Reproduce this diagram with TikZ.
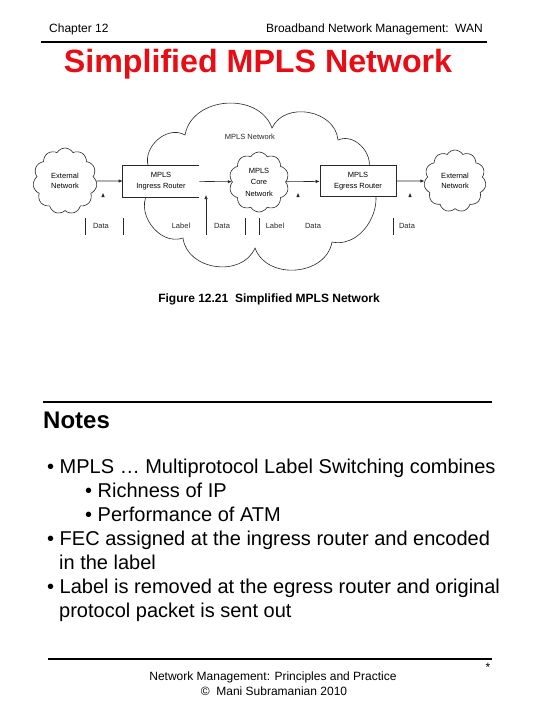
\documentclass[tikz,border=0pt]{standalone}
\usepackage{fontspec}
\setmainfont{Liberation Sans}
\usepackage{xcolor}
\usetikzlibrary{positioning, arrows.meta, shapes.symbols}
\definecolor{titlered}{RGB}{232,12,20}
\definecolor{inkgray}{RGB}{40,40,40}

\begin{document}
\begin{tikzpicture}[x=1pt, y=-1pt, font=\fontsize{7.5}{10.5}\selectfont]

% --- Styles ---
\tikzset{
    routerbox/.style={rectangle, minimum width=76pt, minimum height=31pt, align=center, fill=white, inner sep=1pt, line width=0.6pt, draw=inkgray},
    netcloud/.style={cloud, draw=inkgray, line width=0.6pt, cloud ignores aspect, align=center, inner sep=0pt, fill=white},
    pktlabel/.style={inner sep=0pt, text=inkgray},
    arr/.style={-{Latex[length=4pt, width=3.4pt]}, line width=0.6pt, inkgray},
    pktbar/.style={line width=0.6pt, inkgray},
    slidetext/.style={inner sep=0pt, font=\fontsize{20}{24}\selectfont},
    smalltext/.style={inner sep=0pt, font=\fontsize{12}{14}\selectfont},
}

\useasboundingbox[fill=white] (0,0) rectangle (540,720);

% --- Header ---
\node[smalltext, anchor=base west] (chap) at (49,32) {Chapter 12};
\node[smalltext, anchor=base east] (topic) at (483,32) {Broadband Network Management: \,WAN};
\draw[line width=2pt] (41,42) -- (487,42);
\node[inner sep=0pt, anchor=base, text=titlered, font=\fontsize{32.2}{36}\selectfont\bfseries] (title) at (258,72) {Simplified MPLS Network};

% --- MPLS network cloud (behind the routers) ---
\draw[inkgray, line width=0.6pt, looseness=1.15] (150,190) -- (150,170)
    to[out=120, in=150] (185,135)
    to[out=80, in=110] (272,128)
    to[out=65, in=95] (338,140)
    to[out=24, in=54] (366,175)
    to[out=-42, in=-12] (332,242)
    to[out=-100, in=-70] (255,248)
    to[out=-113, in=-83] (183,238)
    to[out=199, in=229] cycle;
\node[pktlabel] (mplslbl) at (250,137) {MPLS Network};

% --- Row of clouds and routers ---
\node[netcloud, cloud puffs=11, cloud puff arc=120, minimum width=64pt, minimum height=66pt] (extin) at (65,181) {External\\Network};
\node[routerbox, draw=none] (ingress) at (161,181) {MPLS\\Ingress Router};
\draw[line width=0.6pt, inkgray] (ingress.north east) -- (ingress.north west) -- (ingress.south west) -- (ingress.south east);
\node[netcloud, cloud puffs=10, cloud puff arc=120, minimum width=60pt, minimum height=60pt, font=\fontsize{7.5}{11.5}\selectfont] (core) at (259,182) {MPLS\\Core\\Network};
\node[routerbox] (egress) at (358,181) {MPLS\\Egress Router};
\node[netcloud, cloud puffs=11, cloud puff arc=120, minimum width=62pt, minimum height=62pt] (extout) at (455,181) {External\\Network};

% --- Arrows ---
\draw[arr] (extin) -- (ingress);
\draw[arr] (ingress) -- (core);
\draw[arr] (core) -- (egress);
\draw[arr] (egress) -- (extout);

% --- Packets below ---
\node[pktlabel] (pkt1) at (101,226) {Data};
\node[pktlabel] (pkt2) at (181,226) {Label};
\node[pktlabel] (pkt3) at (222,226) {Data};
\node[pktlabel] (pkt4) at (275,226) {Label};
\node[pktlabel] (pkt5) at (313,226) {Data};
\node[pktlabel] (pkt6) at (407,226) {Data};
\foreach \x in {85,123,245,259,393}
    \draw[pktbar] (\x,218) -- (\x,235);

\coordinate (upfoot) at (206,235);
\coordinate (uptip) at (206,195);
\draw[arr] (upfoot) -- (uptip);
\foreach \x in {103,298,410}
    \fill[inkgray] (\x,193) -- (\x-1.6,197) -- (\x+1.6,197) -- cycle;

% --- Caption ---
\node[inner sep=0pt, anchor=base, font=\fontsize{12}{14}\selectfont\bfseries] (caption) at (269,302) {Figure 12.21 \ Simplified MPLS Network};

% --- Notes ---
\draw[line width=2pt] (43,402) -- (492,402);
\node[inner sep=0pt, anchor=base west, font=\fontsize{24}{28}\selectfont\bfseries] (notes) at (43,428) {Notes};

\node[slidetext, anchor=base west] (n1) at (47,473) {• MPLS … Multiprotocol Label Switching combines};
\node[slidetext, anchor=base west] (n2) at (85,497) {• Richness of IP};
\node[slidetext, anchor=base west] (n3) at (85,521) {• Performance of ATM};
\node[slidetext, anchor=base west] (n4) at (47,545) {• FEC assigned at the ingress router and encoded};
\node[slidetext, anchor=base west] (n5) at (59,569) {in the label};
\node[slidetext, anchor=base west] (n6) at (47,593) {• Label is removed at the egress router and original};
\node[slidetext, anchor=base west] (n7) at (59,617) {protocol packet is sent out};

% --- Footer ---
\draw[line width=2pt] (48,659) -- (492,659);
\node[smalltext, anchor=base] (star) at (488,671) {*};
\node[smalltext, anchor=base] (foot1) at (273,680) {Network Management: Principles and Practice};
\node[smalltext, anchor=base] (foot2) at (274,695) {© \ Mani Subramanian 2010};

\end{tikzpicture}
\end{document}
